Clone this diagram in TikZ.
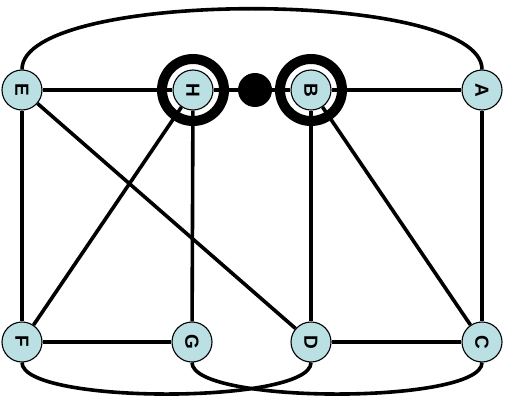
\documentclass[tikz,border=0pt]{standalone}
\usepackage{fontspec}
\usepackage{graphicx}
\setmainfont{Liberation Sans}
\definecolor{nodefill}{RGB}{186,224,227}
\newcommand{\rlab}[1]{\rotatebox[origin=c]{-90}{#1}}
\begin{document}
\begin{tikzpicture}[x=1pt,y=-1pt,
  vert/.style={circle,draw=black,line width=1.1pt,fill=nodefill,minimum size=40pt,inner sep=0pt,
    font=\fontsize{19}{19}\selectfont\bfseries},
  edge/.style={line width=3.6pt},
  ring/.style={draw=black,line width=10pt}]
\useasboundingbox (0,0) rectangle (516,396);
% vertices
\node[vert] (E) at (22,90) {\rlab{E}};
\node[vert] (H) at (193,90) {\rlab{H}};
\node[circle,fill=black,minimum size=34pt,inner sep=0pt] (X) at (255,90) {};
\node[vert] (B) at (311,90) {\rlab{B}};
\node[vert] (A) at (482,90) {\rlab{A}};
\node[vert] (F) at (22,342) {\rlab{F}};
\node[vert] (G) at (192,342) {\rlab{G}};
\node[vert] (D) at (311,342) {\rlab{D}};
\node[vert] (C) at (482,342) {\rlab{C}};
% rings
\draw[ring] (H) circle[radius=31pt];
\draw[ring] (B) circle[radius=31pt];
% edges
\draw[edge] (E) -- (H);
\draw[edge] (H) -- (X);
\draw[edge] (X) -- (B);
\draw[edge] (B) -- (A);
\draw[edge] (E) -- (F);
\draw[edge] (E) -- (D);
\draw[edge] (H) -- (F);
\draw[edge] (H) -- (G);
\draw[edge] (B) -- (D);
\draw[edge] (B) -- (C);
\draw[edge] (A) -- (C);
\draw[edge] (F) -- (G);
\draw[edge] (D) -- (C);
\draw[edge] (E.north) .. controls +(0,-81) and +(0,-81) .. (A.north);
\draw[edge] (F.south) .. controls +(0,42) and +(0,42) .. (D.south);
\draw[edge] (G.south) .. controls +(0,42) and +(0,42) .. (C.south);
\end{tikzpicture}
\end{document}
